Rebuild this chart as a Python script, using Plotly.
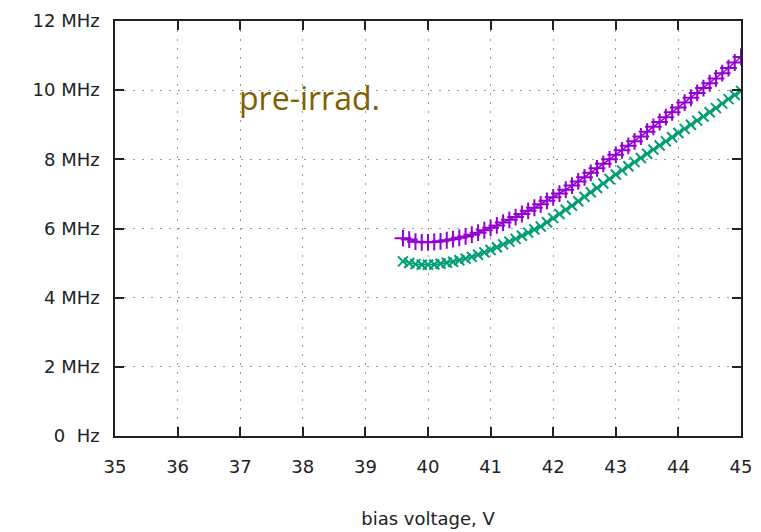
import plotly.graph_objects as go

voltage = [39.6, 39.7, 39.8, 39.9, 40.0, 40.1, 40.2, 40.3, 40.4, 40.5,
           40.6, 40.7, 40.8, 40.9, 41.0, 41.1, 41.2, 41.3, 41.4, 41.5,
           41.6, 41.7, 41.8, 41.9, 42.0, 42.1, 42.2, 42.3, 42.4, 42.5,
           42.6, 42.7, 42.8, 42.9, 43.0, 43.1, 43.2, 43.3, 43.4, 43.5,
           43.6, 43.7, 43.8, 43.9, 44.0, 44.1, 44.2, 44.3, 44.4, 44.5,
           44.6, 44.7, 44.8, 44.9, 45.0]

freq_purple = [5.72, 5.68, 5.62, 5.60, 5.60, 5.61, 5.63, 5.66, 5.69, 5.73,
               5.77, 5.82, 5.88, 5.95, 6.02, 6.09, 6.17, 6.25, 6.33, 6.42,
               6.51, 6.60, 6.70, 6.80, 6.90, 7.01, 7.12, 7.24, 7.36, 7.48,
               7.61, 7.74, 7.87, 8.00, 8.13, 8.26, 8.39, 8.52, 8.66, 8.80,
               8.94, 9.08, 9.22, 9.36, 9.50, 9.64, 9.78, 9.92, 10.06, 10.20,
               10.34, 10.49, 10.64, 10.80, 10.96]

freq_green = [5.05, 5.00, 4.97, 4.95, 4.95, 4.96, 4.98, 5.01, 5.04, 5.08,
              5.13, 5.18, 5.24, 5.31, 5.38, 5.46, 5.54, 5.62, 5.70, 5.79,
              5.88, 5.97, 6.06, 6.18, 6.30, 6.42, 6.54, 6.66, 6.79, 6.92,
              7.05, 7.17, 7.30, 7.43, 7.56, 7.68, 7.80, 7.92, 8.04, 8.16,
              8.28, 8.40, 8.52, 8.64, 8.76, 8.88, 9.00, 9.12, 9.24, 9.36,
              9.48, 9.61, 9.74, 9.86, 9.98]

x_ticks = [35, 36, 37, 38, 39, 40, 41, 42, 43, 44, 45]
y_ticks = [0, 2, 4, 6, 8, 10, 12]
y_tick_labels = ["0  Hz", "2 MHz", "4 MHz", "6 MHz", "8 MHz", "10 MHz", "12 MHz"]

PURPLE = "#9400D3"
GREEN = "#009E73"
TEXT = "#222222"
FONT = "DejaVu Sans"

fig = go.Figure()
fig.add_trace(go.Scatter(
    x=voltage, y=freq_purple, mode="lines+markers",
    line=dict(color=PURPLE, width=1.5),
    marker=dict(symbol="cross-thin", size=12, color=PURPLE,
                line=dict(color=PURPLE, width=2)),
    showlegend=False))
fig.add_trace(go.Scatter(
    x=voltage, y=freq_green, mode="lines+markers",
    line=dict(color=GREEN, width=1.5),
    marker=dict(symbol="x-thin", size=10, color=GREEN,
                line=dict(color=GREEN, width=2)),
    showlegend=False))

fig.add_annotation(x=37, y=9.8, xref="x", yref="y", text="pre-irrad.",
                   showarrow=False, xanchor="left", yanchor="middle",
                   xshift=-3,
                   font=dict(family="Open Sans", size=32, color="#7F6000"))

axis_common = dict(showline=True, linecolor=TEXT, linewidth=1.5,
                   mirror="allticks", ticks="inside", ticklen=9,
                   tickcolor=TEXT, tickwidth=1.5,
                   showgrid=True, gridcolor="#9A9A9A", griddash="2px,7px",
                   gridwidth=1, zeroline=False, automargin=False,
                   tickfont=dict(family=FONT, size=18, color=TEXT))

fig.update_xaxes(range=[35, 45], tickvals=x_ticks, ticklabelstandoff=14,
                 title=dict(text="bias voltage, V", standoff=36,
                            font=dict(family=FONT, size=18, color=TEXT)),
                 **axis_common)
fig.update_yaxes(range=[0, 12], tickvals=y_ticks, ticktext=y_tick_labels,
                 ticklabelstandoff=10, **axis_common)

fig.update_layout(width=761, height=532,
                  margin=dict(l=115, r=20, t=21, b=96),
                  plot_bgcolor="white", paper_bgcolor="white")

fig.write_html("out.html")
